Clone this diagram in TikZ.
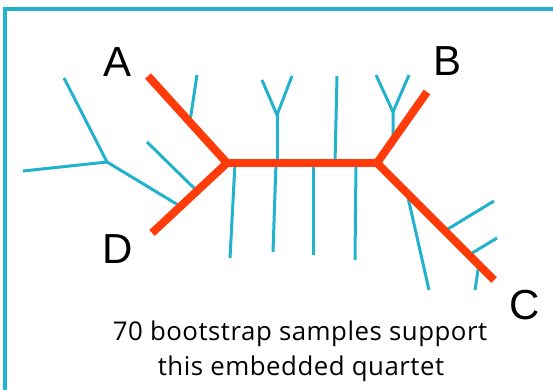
\documentclass[tikz,border=0pt]{standalone}
\usepackage{fontspec}
\setmainfont{Liberation Sans}
\newfontfamily\capfont[LetterSpace=2]{Open Sans}
\usetikzlibrary{calc}
\definecolor{treered}{HTML}{FF3B0A}
\definecolor{treeblue}{HTML}{22B2CE}
\begin{document}
\begin{tikzpicture}[x=1pt,y=-1pt,
  redbr/.style={draw=treered,line width=8pt},
  bluebr/.style={draw=treeblue,line width=3pt},
  framebr/.style={draw=treeblue,line width=3.5pt},
  leaflabel/.style={font=\fontsize{42}{42}\selectfont,inner sep=0pt},
  captext/.style={font=\capfont\fontsize{25.8}{25.8}\selectfont,inner sep=0pt,anchor=base}]
\useasboundingbox (0,0) rectangle (553,390);
% frame
\coordinate (f1) at (5,391);
\coordinate (f2) at (5,9);
\coordinate (f3) at (555,9);
\draw[framebr] (f1) -- (f2) -- (f3);
% red quartet points
\coordinate (L) at (227,163);
\coordinate (R) at (377,163);
\coordinate (A) at (148,76);
\coordinate (B) at (427,92);
\coordinate (C) at (494,280);
\coordinate (D) at (152,233);
% left cluster
\coordinate (N) at (107,162);
\coordinate (n1) at (64,78);
\coordinate (n2) at (23,171);
\coordinate (nd) at ($(L)!0.62!(D)$);
\draw[bluebr] (n1) -- (N) -- (nd);
\draw[bluebr] (n2) -- (N);
\coordinate (d1) at (147,142);
\coordinate (d1e) at ($(L)!0.40!(D)$);
\draw[bluebr] (d1) -- (d1e);
\coordinate (a1) at (197,75);
\coordinate (a1e) at ($(L)!0.47!(A)$);
\draw[bluebr] (a1) -- (a1e);
% top of central branch
\coordinate (y1b) at (277,163);
\coordinate (y1) at (277,115);
\coordinate (y1l) at (262,80);
\coordinate (y1r) at (292,76);
\draw[bluebr] (y1b) -- (y1);
\draw[bluebr] (y1l) -- (y1) -- (y1r);
\coordinate (t1b) at (335,163);
\coordinate (t1) at (337,76);
\draw[bluebr] (t1b) -- (t1);
% Y on B branch
\coordinate (y2b) at ($(R)!0.32!(B)$);
\coordinate (y2) at (393,112);
\coordinate (y2l) at (376,75);
\coordinate (y2r) at (409,75);
\draw[bluebr] (y2b) -- (y2);
\draw[bluebr] (y2l) -- (y2) -- (y2r);
% bottom of central branch
\coordinate (b1t) at (235,163);
\coordinate (b1) at (230,258);
\coordinate (b2t) at (276,163);
\coordinate (b2) at (273,252);
\coordinate (b3t) at (313,163);
\coordinate (b3) at (313,255);
\coordinate (b4t) at (356,163);
\coordinate (b4) at (355,260);
\draw[bluebr] (b1t) -- (b1);
\draw[bluebr] (b2t) -- (b2);
\draw[bluebr] (b3t) -- (b3);
\draw[bluebr] (b4t) -- (b4);
% C branch cluster
\coordinate (c1s) at ($(R)!0.256!(C)$);
\coordinate (c1) at (429,290);
\draw[bluebr] (c1s) -- (c1);
\coordinate (c2s) at ($(R)!0.58!(C)$);
\coordinate (c2) at (494,201);
\draw[bluebr] (c2s) -- (c2);
\coordinate (c3s) at ($(R)!0.786!(C)$);
\coordinate (c3) at (497,238);
\draw[bluebr] (c3s) -- (c3);
\coordinate (c4s) at ($(R)!0.87!(C)$);
\coordinate (c4) at (475,290);
\draw[bluebr] (c4s) -- (c4);
% red quartet
\draw[redbr] (A) -- (L) -- (D);
\draw[redbr] (L) -- (R);
\draw[redbr] (B) -- (R) -- (C);
% labels
\node[leaflabel] (lA) at (118,62) {A};
\node[leaflabel] (lB) at (447,61) {B};
\node[leaflabel] (lC) at (525,305) {C};
\node[leaflabel] (lD) at (118,249) {D};
\node[captext] (cap1) at (300,340) {70 bootstrap samples support};
\node[captext] (cap2) at (301,375) {this embedded quartet};
\end{tikzpicture}
\end{document}
